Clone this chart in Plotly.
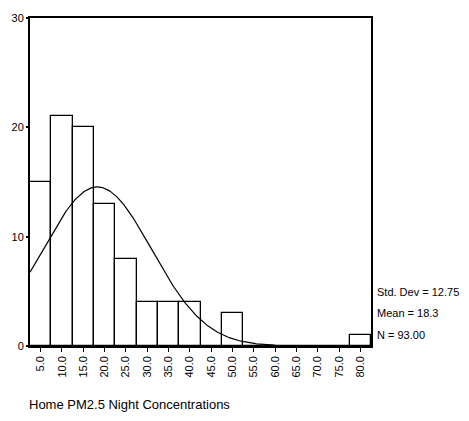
import numpy as np
import plotly.graph_objects as go

# Histogram bins (centers, width 5) and counts
bin_centers = [5, 10, 15, 20, 25, 30, 35, 40, 45, 50, 55, 60, 65, 70, 75, 80]
counts = [15, 21, 20, 13, 8, 4, 4, 4, 0, 3, 0, 0, 0, 0, 0, 1]
tick_labels = ["5.0", "10.0", "15.0", "20.0", "25.0", "30.0", "35.0", "40.0",
               "45.0", "50.0", "55.0", "60.0", "65.0", "70.0", "75.0", "80.0"]

# Summary statistics
std_dev = 12.75
mean = 18.3
n_obs = 93
bin_width = 5

FONT = "Liberation Sans, Arial, sans-serif"

# Fitted normal curve scaled to counts
xs = np.linspace(2.5, 82.5, 400)
ys = n_obs * bin_width / (std_dev * np.sqrt(2 * np.pi)) * np.exp(-0.5 * ((xs - mean) / std_dev) ** 2)

fig = go.Figure()
fig.add_trace(go.Bar(
    x=bin_centers, y=counts, width=bin_width,
    marker=dict(color="white", line=dict(color="black", width=1.3)),
    hoverinfo="skip", showlegend=False,
))
fig.add_trace(go.Scatter(
    x=xs, y=ys, mode="lines",
    line=dict(color="black", width=1.2),
    hoverinfo="skip", showlegend=False,
))

fig.update_layout(
    width=469, height=421,
    margin=dict(l=28, r=98, t=13, b=75),
    plot_bgcolor="white", paper_bgcolor="white",
    bargap=0,
    font=dict(family=FONT, color="black", size=11),
    xaxis=dict(
        range=[2.5, 82.5], tickmode="array", tickvals=bin_centers, ticktext=tick_labels,
        tickangle=-90, ticks="outside", ticklen=4, tickcolor="black", tickwidth=1,
        showline=True, linecolor="black", linewidth=1.5, mirror=True,
        showgrid=False, zeroline=False, tickfont=dict(size=11, family=FONT),
    ),
    yaxis=dict(
        range=[0, 30], tickmode="array", tickvals=[0, 10, 20, 30],
        ticks="outside", ticklen=2, tickcolor="black", tickwidth=2,
        showline=True, linecolor="black", linewidth=2, mirror=True,
        showgrid=False, zeroline=False, tickfont=dict(size=11, family=FONT),
    ),
)

stats = [f"Std. Dev = {std_dev:.2f}", f"Mean = {mean:.1f}", f"N = {n_obs:.2f}"]
for i, txt in enumerate(stats):
    fig.add_annotation(
        xref="paper", yref="paper", x=1, y=(346 - (291 + 22 * i)) / 333,
        xshift=4, xanchor="left", yanchor="middle", showarrow=False,
        text=txt, font=dict(size=11, family=FONT),
    )

fig.add_annotation(
    xref="paper", yref="paper", x=0, y=-(405 - 346) / 333,
    xshift=-3, xanchor="left", yanchor="middle", showarrow=False,
    text="Home PM2.5 Night Concentrations", font=dict(size=13, family=FONT),
)

fig.write_html("out.html")
